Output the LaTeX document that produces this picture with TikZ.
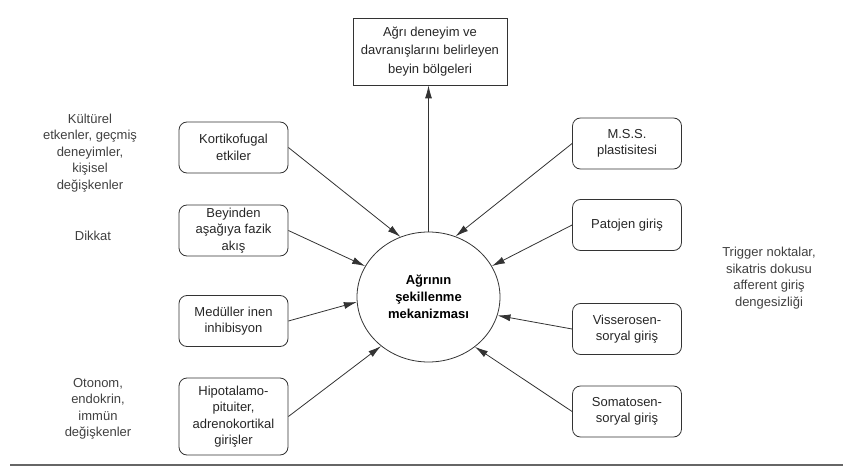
\documentclass[tikz,border=0pt]{standalone}
\usepackage{fontspec}
\setmainfont{Liberation Sans}
\usetikzlibrary{arrows.meta,shapes.geometric}

\begin{document}
\begin{tikzpicture}[x=1pt, y=-1pt, font=\fontsize{13}{16.5}\selectfont,
  kutu/.style={draw=black!80, line width=0.8pt, rounded corners=8pt, minimum width=109pt,
    minimum height=51pt, inner sep=2pt, align=center, text=black!85},
  yan/.style={align=center, text=black!75},
  ok/.style={draw=black!80, line width=0.8pt, -{Latex[length=13pt,width=7pt]}}]
  \useasboundingbox (0,0) rectangle (843,468);

  % center and top
  \node[ellipse, draw=black!80, line width=0.8pt, minimum width=143pt, minimum height=130pt,
    inner sep=0pt, align=center, font=\fontsize{13}{17}\selectfont\bfseries] (merkez) at (428.5,297)
    {Ağrının\\şekillenme\\mekanizması};
  \node[draw=black!80, line width=0.8pt, minimum width=154pt, minimum height=67pt, align=center,
    font=\fontsize{13}{18.5}\selectfont, text=black!85] (beyin) at (430,51.5)
    {Ağrı deneyim ve\\davranışlarını belirleyen\\beyin bölgeleri};

  % left boxes
  \node[kutu] (korti) at (233.5,147.5) {Kortikofugal\\etkiler};
  \node[kutu] (fazik) at (233.5,230.5) {Beyinden\\aşağıya fazik\\akış};
  \node[kutu] (medul) at (233.5,321) {Medüller inen\\inhibisyon};
  \node[kutu, minimum height=77pt] (hipo) at (233.5,416.5) {Hipotalamo-\\pituiter,\\adrenokortikal\\girişler};

  % right boxes
  \node[kutu] (mss) at (627,143.5) {M.S.S.\\plastisitesi};
  \node[kutu] (pato) at (627,225) {Patojen giriş};
  \node[kutu] (visse) at (627,329) {Visserosen-\\soryal giriş};
  \node[kutu] (soma) at (627,411.5) {Somatosen-\\soryal giriş};

  % side notes
  \node[yan] (kultur) at (90,153) {Kültürel\\etkenler, geçmiş\\deneyimler,\\kişisel\\değişkenler};
  \node[yan] (dikkat) at (93,236) {Dikkat};
  \node[yan] (otonom) at (98,409) {Otonom,\\endokrin,\\immün\\değişkenler};
  \node[yan] (trigger) at (769,278) {Trigger noktalar,\\sikatris dokusu\\afferent giriş\\dengesizliği};

  % arrows
  \draw[ok] (merkez.north) -- (merkez.north |- beyin.south);
  \draw[ok] (korti.east) -- (merkez.115);
  \draw[ok] (fazik.east) -- (merkez.154);
  \draw[ok] (medul.east) -- (merkez.184);
  \draw[ok] (hipo.east) -- (merkez.226);
  \draw[ok] (mss.west) -- (merkez.66);
  \draw[ok] (pato.west) -- (merkez.26);
  \draw[ok] (visse.west) -- (merkez.-15);
  \draw[ok] (soma.west) -- (merkez.-47);

  % bottom rule
  \coordinate (alt1) at (10,465);
  \coordinate (alt2) at (843,465);
  \draw[black!60, line width=2pt] (alt1) -- (alt2);
\end{tikzpicture}
\end{document}
